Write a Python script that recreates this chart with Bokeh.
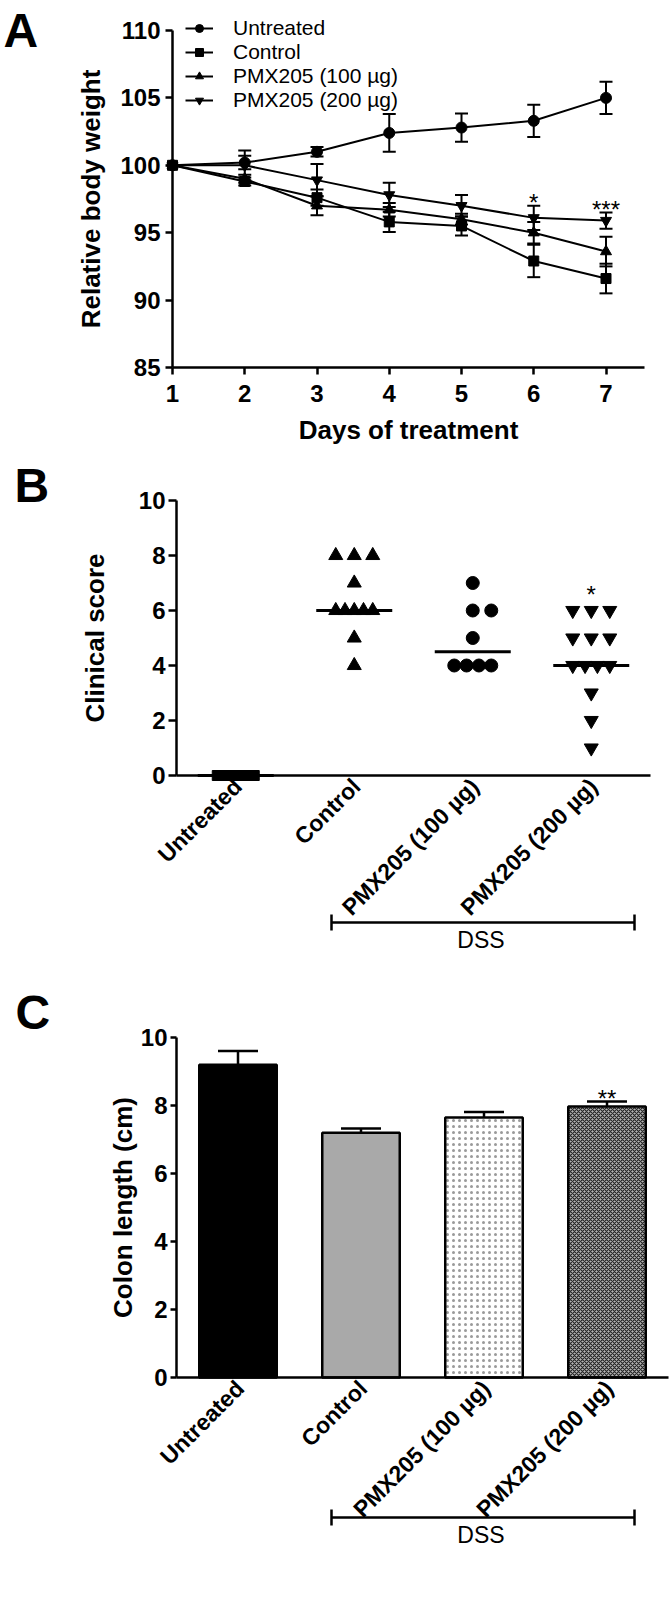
import numpy as np
from math import pi
from bokeh.plotting import figure
from bokeh.models import (ColumnDataSource, Whisker, TeeHead, Legend, LegendItem, Label,
                          Arrow, FixedTicker, Range1d)
from bokeh.layouts import column
from bokeh.embed import file_html
from bokeh.resources import INLINE
from bokeh.core.properties import value

# ---------------- data ----------------
days = [1, 2, 3, 4, 5, 6, 7]
untreated_w = [100.0, 100.2, 101.0, 102.4, 102.8, 103.3, 105.0]
untreated_e = [0.0, 0.5, 0.35, 1.4, 1.05, 1.2, 1.2]
control_w = [100.0, 98.8, 97.6, 95.8, 95.5, 92.9, 91.6]
control_e = [0.0, 0.3, 0.6, 0.75, 0.7, 1.2, 1.1]
pmx100_w = [100.0, 99.0, 97.0, 96.7, 96.0, 95.0, 93.6]
pmx100_e = [0.0, 0.3, 0.7, 0.5, 0.4, 0.8, 1.1]
pmx200_w = [100.0, 100.0, 98.9, 97.8, 97.0, 96.1, 95.9]
pmx200_e = [0.0, 1.1, 1.2, 0.9, 0.8, 0.9, 0.6]
sig_a = ["", "", "", "", "", "*", "***"]
weight_ticks = [85, 90, 95, 100, 105, 110]
series_names = ["Untreated", "Control", "PMX205 (100 µg)", "PMX205 (200 µg)"]

groups = ["Untreated", "Control", "PMX205 (100 µg)", "PMX205 (200 µg)"]
untreated_score = [0, 0, 0, 0, 0, 0, 0, 0, 0, 0]
control_score = [8, 8, 8, 7, 6, 6, 6, 6, 6, 5, 4]
pmx100_score = [7, 6, 6, 5, 4, 4, 4, 4]
pmx200_score = [6, 6, 6, 5, 5, 5, 4, 4, 4, 4, 3, 2, 1]
sig_b = ["", "", "", "*"]
score_ticks = [0, 2, 4, 6, 8, 10]

colon_mean = [9.2, 7.2, 7.65, 7.97]
colon_err = [0.4, 0.12, 0.16, 0.15]
sig_c = ["", "", "", "**"]
length_ticks = [0, 2, 4, 6, 8, 10]

FONT = "Liberation Sans"
W = 670


class Mapper:
    """Map page pixels to data for one figure whose frame fills its whole canvas."""

    def __init__(self, top, height, xv0, xp0, xv1, xp1, yv0, yp0, yv1, yp1):
        self.top, self.h = top, height
        self.sx = (xv1 - xv0) / (xp1 - xp0)
        self.xv0, self.xp0 = xv0, xp0
        self.sy = (yv1 - yv0) / (yp1 - yp0)
        self.yv0, self.yp0 = yv0, yp0

    def x(self, px):
        return self.xv0 + (px - self.xp0) * self.sx

    def y(self, py):
        return self.yv0 + (py - self.yp0) * self.sy

    def dx(self, d):
        return d * self.sx

    def dy(self, d):
        # d pixels upward -> data units
        return -d * self.sy

    def xr(self):
        return Range1d(self.x(0), self.x(W))

    def yr(self):
        return Range1d(self.y(self.top + self.h), self.y(self.top))


def make_fig(m):
    p = figure(width=W, height=m.h, x_range=m.xr(), y_range=m.yr(), title=None,
               min_border_left=0, min_border_right=0, min_border_top=0, min_border_bottom=0,
               output_backend="svg", toolbar_location=None)
    for ax in (p.xaxis[0], p.yaxis[0]):
        ax.axis_line_width = 2.5
        ax.axis_line_color = "black"
        ax.major_tick_line_width = 2.5
        ax.major_tick_line_color = "black"
        ax.minor_tick_line_color = None
        ax.major_tick_in = 0
        ax.major_tick_out = 8
        ax.major_label_standoff = 5
        ax.major_label_text_font = FONT
        ax.major_label_text_font_style = "bold"
        ax.major_label_text_font_size = "24px"
        ax.major_label_text_color = "black"
        ax.axis_label_text_font = FONT
        ax.axis_label_text_font_style = "bold"
        ax.axis_label_text_font_size = "26px"
        ax.axis_label_text_color = "black"
    p.grid.visible = False
    p.outline_line_color = None
    p.background_fill_color = "white"
    p.border_fill_color = "white"
    return p


def letter(p, m, px, py, t):
    p.add_layout(Label(x=m.x(px), y=m.y(py), text=t, text_font=FONT, text_font_style="bold",
                       text_font_size="48px", text_baseline="alphabetic", text_color="black"))


def bracket(p, m, px0, px1, py, ty):
    p.add_layout(Arrow(x_start=m.x(px0), x_end=m.x(px1), y_start=m.y(py), y_end=m.y(py),
                       line_width=2.5, line_color="black",
                       start=TeeHead(size=16, line_width=2.5, line_color="black"),
                       end=TeeHead(size=16, line_width=2.5, line_color="black")))
    p.add_layout(Label(x=m.x((px0 + px1) / 2 - 2), y=m.y(ty), text="DSS", text_font=FONT,
                       text_font_size="23px", text_align="center", text_baseline="middle",
                       text_color="black"))


def category_labels(p, m):
    # categorical axis: line only, labels drawn rotated like the original
    p.xaxis.ticker = FixedTicker(ticks=[])
    xs = [i + 1 + m.dx(2) for i in range(len(groups))]
    ys = [m.dy(-7)] * len(groups)
    p.text(x=xs, y=ys, text=groups, angle=pi / 4, text_align="right", text_baseline="middle",
           text_font=value(FONT), text_font_style="bold", text_font_size="23px",
           text_color="black")


# ---------------- Panel A ----------------
ma = Mapper(0, 450, 1, 172, 7, 605.5, 110, 30, 85, 367)
pa = make_fig(ma)
pa.xaxis.ticker = FixedTicker(ticks=days)
pa.yaxis.ticker = FixedTicker(ticks=weight_ticks)
pa.yaxis.fixed_location = days[0]
pa.xaxis.fixed_location = weight_ticks[0]
pa.yaxis.bounds = (weight_ticks[0], weight_ticks[-1])
pa.xaxis.bounds = (days[0], ma.x(644))
pa.xaxis.major_tick_out = 7
pa.yaxis.major_tick_out = 7
pa.xaxis.major_label_standoff = 10
pa.xaxis.axis_label = "Days of treatment"
pa.yaxis.axis_label = "Relative body weight"
pa.xaxis.axis_label_standoff = 10
pa.yaxis.axis_label_standoff = 11

markers_a = ["circle", "square", "triangle", "inverted_triangle"]
items = []
for name, w, e, mk in zip(series_names, [untreated_w, control_w, pmx100_w, pmx200_w],
                          [untreated_e, control_e, pmx100_e, pmx200_e], markers_a):
    src = ColumnDataSource(dict(x=days, y=w))
    keep = [i for i in range(len(days)) if e[i] > 0]
    esrc = ColumnDataSource(dict(x=[days[i] for i in keep],
                                 lo=[w[i] - e[i] for i in keep],
                                 hi=[w[i] + e[i] for i in keep]))
    pa.add_layout(Whisker(source=esrc, base="x", lower="lo", upper="hi", line_width=2,
                          line_color="black",
                          upper_head=TeeHead(size=13, line_width=2, line_color="black"),
                          lower_head=TeeHead(size=13, line_width=2, line_color="black")))
    rl = pa.line("x", "y", source=src, line_color="black", line_width=2)
    rm = pa.scatter("x", "y", source=src, marker=mk, size=11 if mk != "square" else 10,
                    color="black")
    items.append(LegendItem(label=name, renderers=[rl, rm]))

leg = Legend(items=items, location=(185, 450 - 112), padding=0, margin=0, spacing=0,
             border_line_color=None, background_fill_alpha=0,
             label_text_font=FONT, label_text_font_size="21px", label_text_color="black",
             glyph_width=28, glyph_height=20, label_height=20, label_standoff=20)
pa.add_layout(leg)

sx = [days[i] for i in range(len(days)) if sig_a[i]]
sy = [pmx200_w[i] + pmx200_e[i] + ma.dy(3) for i in range(len(days)) if sig_a[i]]
st = [s for s in sig_a if s]
pa.text(x=sx, y=sy, text=st, text_font=value(FONT), text_font_size="24px",
        text_align="center", text_baseline="alphabetic", text_color="black")
letter(pa, ma, 3, 30, "A")

# ---------------- Panel B ----------------
mb = Mapper(450, 523, 0.5, 176, 4.5, 650, 10, 500, 0, 775)
pb = make_fig(mb)
pb.xaxis.fixed_location = 0
pb.yaxis.fixed_location = 0.5
pb.yaxis.bounds = (0, 10)
pb.xaxis.bounds = (0.5, 4.5)
pb.yaxis.ticker = FixedTicker(ticks=score_ticks)
pb.xaxis.major_tick_out = 0
pb.yaxis.major_label_standoff = 3
pb.yaxis.axis_label = "Clinical score"
pb.yaxis.axis_label_standoff = 26
category_labels(pb, mb)


def spread(n):
    if n == 1:
        return [0.0]
    if n == 2:
        return [0.0, 1.0]
    if n == 3:
        return [-1.0, 0.0, 1.0]
    return list(np.linspace(-1, 1, n))


markers_b = ["square", "triangle", "circle", "inverted_triangle"]
sizes_b = [10, 14, 13, 14]
for gi, (scores, mk, sz) in enumerate(zip([untreated_score, control_score, pmx100_score, pmx200_score],
                                          markers_b, sizes_b)):
    cx = gi + 1
    xs, ys = [], []
    for v in sorted(set(scores), reverse=True):
        n = scores.count(v)
        for o in spread(n):
            xs.append(cx + mb.dx(o * 18.5))
            ys.append(v)
    pb.scatter(xs, ys, marker=mk, size=sz, color="black")
    med = float(np.median(scores))
    pb.segment(x0=[cx - mb.dx(38)], x1=[cx + mb.dx(38)], y0=[med], y1=[med],
               line_color="black", line_width=3)
    if sig_b[gi]:
        pb.text(x=[cx], y=[max(scores) + mb.dy(16)], text=[sig_b[gi]], text_font=value(FONT),
                text_font_size="24px", text_align="center", text_baseline="alphabetic",
                text_color="black")

bracket(pb, mb, 331, 634, 922, 939)
letter(pb, mb, 14, 485, "B")

# ---------------- Panel C ----------------
mc = Mapper(973, 627, 0.5, 176, 4.5, 668, 10, 1037, 0, 1377)
pc = make_fig(mc)
pc.xaxis.fixed_location = 0
pc.yaxis.fixed_location = 0.5
pc.yaxis.bounds = (0, 10)
pc.xaxis.bounds = (0.5, 4.5)
pc.yaxis.ticker = FixedTicker(ticks=length_ticks)
pc.xaxis.major_tick_out = 0
pc.yaxis.major_tick_out = 6
pc.yaxis.major_label_standoff = 3
pc.yaxis.axis_label = "Colon length (cm)"
pc.yaxis.axis_label_standoff = 0
category_labels(pc, mc)

cats = [1, 2, 3, 4]
bsrc = ColumnDataSource(dict(
    x=cats, top=colon_mean,
    fill=["black", "#a9a9a9", "white", "#b4b4b4"],
    hatch=[" ", " ", "dot", "diagonal_cross"],
    hcol=["black", "black", "#9a9a9a", "#262626"],
    hscale=[6, 6, 6, 4],
    hweight=[1, 1, 1.5, 1.2],
))
pc.vbar(x="x", top="top", width=0.63, source=bsrc, fill_color="fill", line_color="black",
        line_width=2.5, hatch_pattern="hatch", hatch_color="hcol", hatch_scale="hscale",
        hatch_weight="hweight")
esrc_c = ColumnDataSource(dict(x=cats, lo=colon_mean,
                               hi=[m + e for m, e in zip(colon_mean, colon_err)]))
pc.add_layout(Whisker(source=esrc_c, base="x", lower="lo", upper="hi", line_width=2.5,
                      line_color="black", lower_head=None,
                      upper_head=TeeHead(size=40, line_width=2.5, line_color="black")))
for i, s in enumerate(sig_c):
    if s:
        pc.text(x=[cats[i]], y=[colon_mean[i] + colon_err[i] + mc.dy(3)], text=[s],
                text_font=value(FONT), text_font_size="24px", text_align="center",
                text_baseline="alphabetic", text_color="black")

bracket(pc, mc, 331, 634, 1517, 1534)
letter(pc, mc, 15, 1012, "C")

layout = column(pa, pb, pc, spacing=0)
open("out.html", "w").write(file_html(layout, INLINE))
